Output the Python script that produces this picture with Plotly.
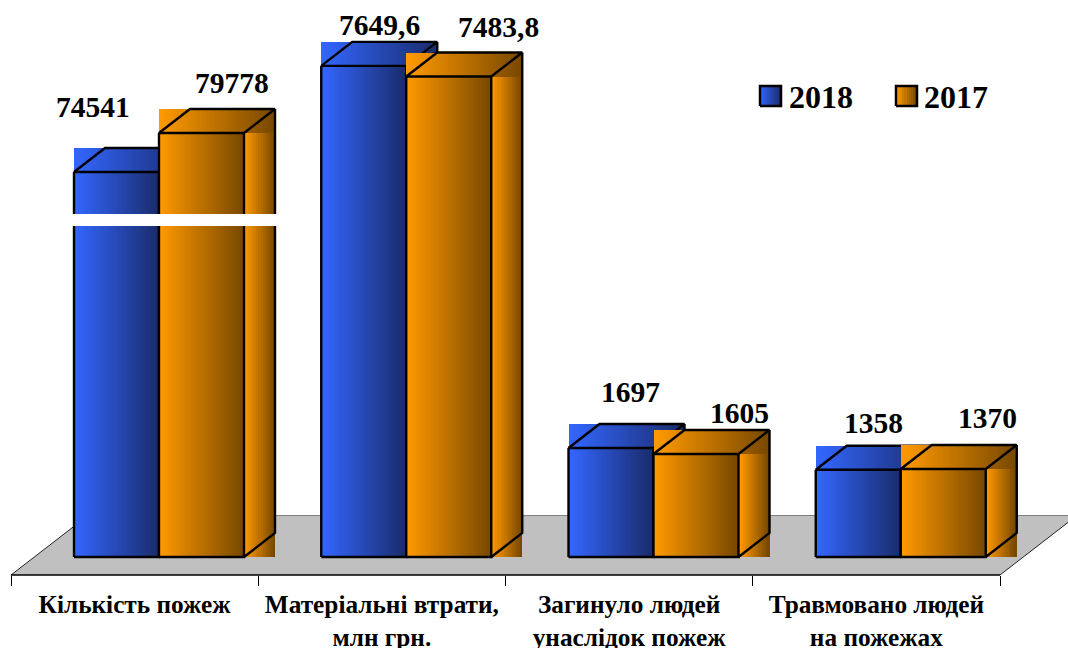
import plotly.graph_objects as go

# ---- data ----
categories = ["Кількість пожеж", "Матеріальні втрати,<br>млн грн.",
              "Загинуло людей<br>унаслідок пожеж", "Травмовано людей<br>на пожежах"]
series_names = ["2018", "2017"]
values_2018 = [74541, 7649.6, 1697, 1358]
values_2017 = [79778, 7483.8, 1605, 1370]
labels_2018 = ["74541", "7649,6", "1697", "1358"]
labels_2017 = ["79778", "7483,8", "1605", "1370"]

# ---- layout constants ----
W, H = 1068, 648
CAT_PX = 247.25            # width of one category, px
LEFT_PX = 11               # pixel of category boundary 0
BASE_PX = 557              # pixel of value zero
PX_PER_UNIT = 0.0642
OFFSET = 63 / CAT_PX       # blue bar start inside a category
BAR_W = 85 / CAT_PX
DEPTH_X = 31 / CAT_PX
DEPTH_Y = 24 / PX_PER_UNIT
BREAK_SCALE, BREAK_SHIFT, BREAK_FROM = 0.1159, -2642, 10000
SERIF = "Liberation Serif"
LABEL_SHIFT_2018 = [(-24, 65), (16, 41), (19, 56), (15, 47)]
LABEL_SHIFT_2017 = [(30, 50), (50, 50), (43, 41), (44, 51)]
GRAD_2018 = ((0x33, 0x66, 0xFF), (0x1A, 0x2C, 0x6C))
GRAD_2017 = ((0xFF, 0x99, 0x00), (0x78, 0x48, 0x00))


def xv(px):
    return (px - LEFT_PX) / CAT_PX


def yv(px):
    return (BASE_PX - px) / PX_PER_UNIT


def scaled(v):
    """The chart's value axis is broken: values above the break are compressed."""
    return v if v < BREAK_FROM else v * BREAK_SCALE + BREAK_SHIFT


def strips(x0, x1, y0, y1, grad, out):
    n = max(int(round((x1 - x0) * CAT_PX / 2)), 1)
    step = (x1 - x0) / n
    for i in range(n):
        t = i / max(n - 1, 1)
        c = [round(a + (b - a) * t) for a, b in zip(*grad)]
        out["x"].append(x0 + (i + 0.5) * step)
        out["width"].append(step)
        out["base"].append(y0)
        out["y"].append(y1 - y0)
        out["color"].append(f"rgb({c[0]},{c[1]},{c[2]})")


def bar_series(vals, col, grad, name, xa, ya):
    s = dict(x=[], width=[], base=[], y=[], color=[])
    lx, ly = [], []
    for i, v in enumerate(vals):
        top = scaled(v)
        back = top + DEPTH_Y
        x0 = i + OFFSET + col * BAR_W
        x1 = x0 + BAR_W
        strips(x1, x1 + DEPTH_X, 0, top, grad, s)
        strips(x0, x1 + DEPTH_X, top, back, grad, s)
        strips(x0, x1, 0, top, grad, s)
        # front rectangle, top parallelogram, side edges
        lx += [x0, x1, x1, x0, x0, x0 + DEPTH_X, x1 + DEPTH_X, x1, None,
               x1 + DEPTH_X, x1 + DEPTH_X, x1, None, x0, x0, None]
        ly += [0, 0, top, top, top, back, back, top, None,
               back, DEPTH_Y, 0, None, top, 0, None]
    return [
        go.Bar(x=s["x"], y=s["y"], base=s["base"], width=s["width"], name=name,
               marker=dict(color=s["color"], line=dict(width=0)), showlegend=False,
               hoverinfo="skip", xaxis=xa, yaxis=ya),
        go.Scatter(x=lx, y=ly, mode="lines", line=dict(color="black", width=2.4),
                   showlegend=False, hoverinfo="skip", xaxis=xa, yaxis=ya),
    ]


def legend_swatch(px0, grad, xa, ya):
    s = dict(x=[], width=[], base=[], y=[], color=[])
    x0, x1, y0, y1 = xv(px0), xv(px0 + 21), yv(106), yv(86)
    strips(x0, x1, y0, y1, grad, s)
    return [
        go.Bar(x=s["x"], y=s["y"], base=s["base"], width=s["width"],
               marker=dict(color=s["color"], line=dict(width=0)), showlegend=False,
               hoverinfo="skip", xaxis=xa, yaxis=ya),
        go.Scatter(x=[x0, x1, x1, x0, x0], y=[y0, y0, y1, y1, y0], mode="lines",
                   line=dict(color="black", width=2.5), showlegend=False,
                   hoverinfo="skip", xaxis=xa, yaxis=ya),
    ]


fig = go.Figure()

# floor of the 3D scene
n_cat = len(categories)
fy0, fy1 = yv(575), yv(515.5)
fdx = 77 / CAT_PX
fig.add_trace(go.Scatter(x=[0, n_cat, n_cat + fdx, fdx, 0], y=[fy0, fy0, fy1, fy1, fy0],
                         mode="lines", fill="toself", fillcolor="#C0C0C0",
                         line=dict(width=0), showlegend=False, hoverinfo="skip"))
fig.add_trace(go.Scatter(x=[fdx, n_cat + fdx], y=[fy1, fy1],
                         mode="lines", line=dict(color="#808080", width=1),
                         showlegend=False, hoverinfo="skip"))
fig.add_trace(go.Scatter(x=[0, fdx, None, n_cat, n_cat + fdx], y=[fy0, fy1, None, fy0, fy1],
                         mode="lines", line=dict(color="#222222", width=1),
                         showlegend=False, hoverinfo="skip"))

for t in bar_series(values_2018, 0, GRAD_2018, series_names[0], "x2", "y2"):
    fig.add_trace(t)
for t in bar_series(values_2017, 1, GRAD_2017, series_names[1], "x3", "y3"):
    fig.add_trace(t)
for t in legend_swatch(760, GRAD_2018, "x3", "y3") + legend_swatch(896, GRAD_2017, "x3", "y3"):
    fig.add_trace(t)

# white gap marking the axis break on the first category
bx0, bx1 = xv(72), xv(277)
by0, by1 = yv(226), yv(214)
fig.add_trace(go.Scatter(x=[bx0, bx1, bx1, bx0, bx0], y=[by0, by0, by1, by1, by0],
                         mode="lines", fill="toself", fillcolor="white", line=dict(width=0),
                         showlegend=False, hoverinfo="skip", xaxis="x3", yaxis="y3"))

ann = []
for col, (vals, labs, shifts) in enumerate([(values_2018, labels_2018, LABEL_SHIFT_2018),
                                            (values_2017, labels_2017, LABEL_SHIFT_2017)]):
    for i, (v, lab, (dx, dy)) in enumerate(zip(vals, labs, shifts)):
        ann.append(dict(x=i + OFFSET + (col + 0.5) * BAR_W, y=scaled(v), text=f"<b>{lab}</b>",
                        xshift=dx, yshift=dy, showarrow=False, xanchor="center", yanchor="middle",
                        font=dict(family=SERIF, size=29.5, color="black")))
for name, px in zip(series_names, (820.5, 956)):
    ann.append(dict(x=xv(px), y=yv(97), text=f"<b>{name}</b>", showarrow=False,
                    xanchor="center", yanchor="middle",
                    font=dict(family=SERIF, size=32, color="black")))

x_range = [xv(0), xv(W)]
y_range = [yv(H), yv(0)]
hidden = dict(visible=False, fixedrange=True, automargin=False)
fig.update_layout(
    template=None,
    width=W, height=H, margin=dict(l=0, r=0, t=0, b=0, pad=0, autoexpand=False),
    paper_bgcolor="white", plot_bgcolor="rgba(0,0,0,0)", barmode="overlay", bargap=0,
    showlegend=False, annotations=ann,
    xaxis=dict(range=x_range, domain=[0, 1], anchor="free", position=(H - 575) / H,
               automargin=False,
               showgrid=False, zeroline=False, showline=False, fixedrange=True,
               tickmode="array", tickvals=[i + 0.5 for i in range(n_cat)],
               ticktext=[f"<b>{c}</b>" for c in categories],
               ticks="", ticklen=0, ticklabelstandoff=12, tickangle=0,
               tickfont=dict(family=SERIF, size=25.3, color="black"),
               minor=dict(tickmode="array", tickvals=list(range(n_cat + 1)), ticks="outside",
                          ticklen=10, tickwidth=1, tickcolor="black", showgrid=False)),
    yaxis=dict(range=y_range, domain=[0, 1], **hidden),
    xaxis2=dict(range=x_range, overlaying="x", anchor="y2", **hidden),
    yaxis2=dict(range=y_range, overlaying="y", anchor="x2", **hidden),
    xaxis3=dict(range=x_range, overlaying="x", anchor="y3", **hidden),
    yaxis3=dict(range=y_range, overlaying="y", anchor="x3", **hidden),
    shapes=[dict(type="line", xref="x", yref="y", x0=0, x1=n_cat, y0=fy0, y1=fy0,
                 line=dict(color="black", width=1.5), layer="above")],
)
fig.write_html("out.html", post_script="document.body.style.margin='0';",
               config=dict(displayModeBar=False))
